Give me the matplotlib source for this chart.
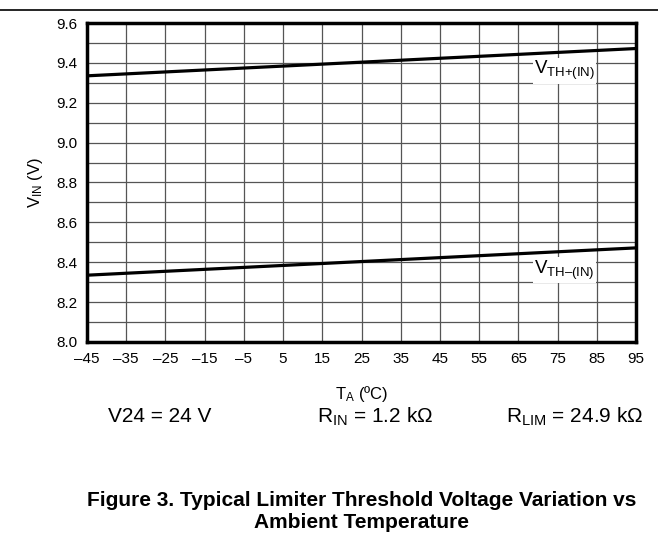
import numpy as np
import matplotlib.pyplot as plt
import matplotlib.lines as mlines

plt.rcParams['font.family'] = ['Liberation Sans', 'DejaVu Sans']
plt.rcParams['mathtext.fontset'] = 'custom'
plt.rcParams['mathtext.rm'] = 'Liberation Sans'
plt.rcParams['mathtext.default'] = 'regular'

# data
temp = [-45, 95]
vth_plus = [9.335, 9.472]
vth_minus = [8.335, 8.472]
xticks = list(range(-45, 96, 10))
xtick_labels = [str(t).replace('-', '\u2013') for t in xticks]
yticks = np.round(np.arange(8.0, 9.61, 0.2), 1)

fig = plt.figure(figsize=(6.58, 5.4), dpi=100)
ax = fig.add_axes([0.1322, 0.3667, 0.8344, 0.5907])

ax.plot(temp, vth_plus, color='black', lw=2.3, zorder=3)
ax.plot(temp, vth_minus, color='black', lw=2.3, zorder=3)

ax.set_xlim(-45, 95)
ax.set_ylim(8.0, 9.6)
ax.set_xticks(xticks)
ax.set_xticklabels(xtick_labels)
ax.set_yticks(yticks)
ax.set_yticklabels(['%.1f' % v for v in yticks])
ax.set_yticks(np.round(np.arange(8.1, 9.6, 0.2), 1), minor=True)
ax.grid(True, which='both', color='#555555', lw=0.9)
ax.tick_params(which='both', length=0, labelsize=11, pad=7)
for s in ax.spines.values():
    s.set_linewidth(2.5)

ax.set_ylabel('$V_{IN}$ (V)', fontsize=12, labelpad=8)
ax.set_xlabel('$T_A$ (\u00baC)', fontsize=12, labelpad=13)

box = dict(facecolor='white', edgecolor='none', pad=1)
ax.text(84.5, 9.36, '$V_{TH{+}(IN)}$', fontsize=13.5, ha='right', va='center',
        bbox=box, zorder=4)
ax.text(84.5, 8.36, '$V_{TH\u2013(IN)}$', fontsize=13.5, ha='right', va='center',
        bbox=box, zorder=4)

fig.text(0.243, 0.228, 'V24 = 24 V', fontsize=15, ha='center', va='center')
fig.text(0.57, 0.228, '$R_{IN}$ = 1.2 k\u03a9', fontsize=15, ha='center', va='center')
fig.text(0.874, 0.228, '$R_{LIM}$ = 24.9 k\u03a9', fontsize=15, ha='center', va='center')

fig.text(0.55, 0.052, 'Figure 3. Typical Limiter Threshold Voltage Variation vs\nAmbient Temperature',
         fontsize=15, fontweight='bold', ha='center', va='center', linespacing=1.2)

fig.add_artist(mlines.Line2D([0, 1], [0.9815, 0.9815], color='black', lw=1.2))

fig.savefig('out.png', dpi=100)
